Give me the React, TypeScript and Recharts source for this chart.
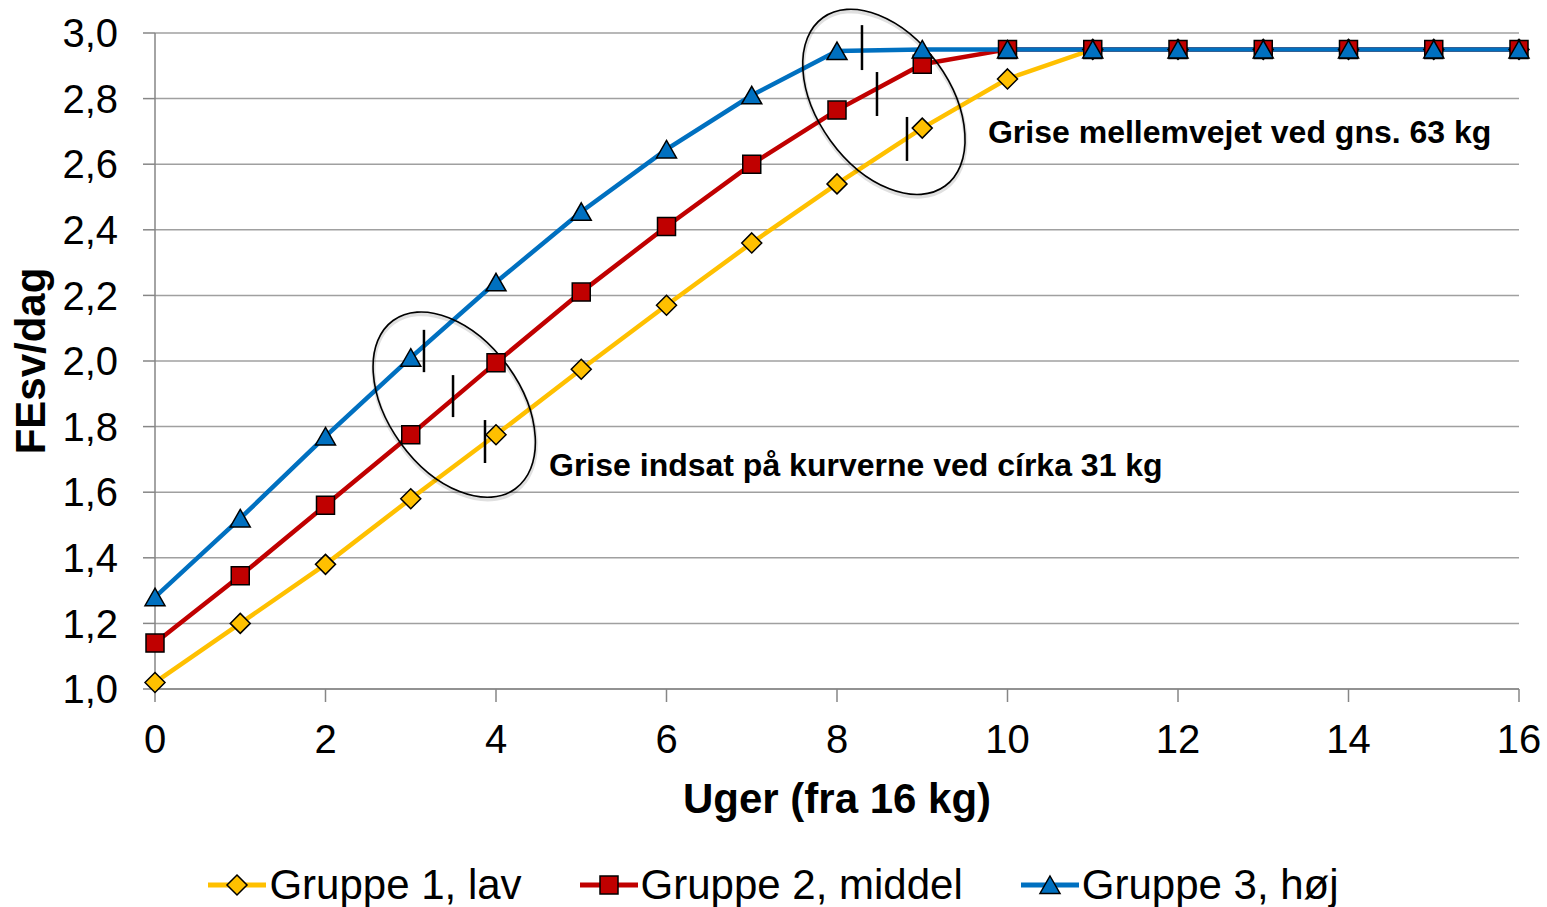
import React from "react";
import {
  LineChart,
  Line,
  XAxis,
  YAxis,
  CartesianGrid,
  Legend,
  ReferenceDot,
  ReferenceLine,
} from "recharts";

const weeks = [0, 1, 2, 3, 4, 5, 6, 7, 8, 9, 10, 11, 12, 13, 14, 15, 16];
const gruppe1 = [1.02, 1.2, 1.38, 1.58, 1.775, 1.975, 2.17, 2.36, 2.54, 2.71, 2.86, 2.95, 2.95, 2.95, 2.95, 2.95, 2.95];
const gruppe2 = [1.14, 1.345, 1.56, 1.775, 1.995, 2.21, 2.41, 2.6, 2.765, 2.905, 2.95, 2.95, 2.95, 2.95, 2.95, 2.95, 2.95];
const gruppe3 = [1.28, 1.52, 1.77, 2.01, 2.24, 2.455, 2.645, 2.81, 2.945, 2.95, 2.95, 2.95, 2.95, 2.95, 2.95, 2.95, 2.95];

const xTicks = [0, 2, 4, 6, 8, 10, 12, 14, 16];
const yTicks = [1.0, 1.2, 1.4, 1.6, 1.8, 2.0, 2.2, 2.4, 2.6, 2.8, 3.0];

const seriesNames = ["Gruppe 1, lav", "Gruppe 2, middel", "Gruppe 3, høj"];
const seriesColors = ["#FFC000", "#C00000", "#0070C0"];

// annotation marks (data coordinates)
const ellipseCenters = [
  { x: 3.51, y: 1.867 },
  { x: 8.55, y: 2.79 },
];
const markSegments = [
  { x: 3.155, y1: 1.966, y2: 2.095 },
  { x: 3.496, y1: 1.829, y2: 1.957 },
  { x: 3.871, y1: 1.689, y2: 1.82 },
  { x: 8.293, y1: 2.887, y2: 3.024 },
  { x: 8.469, y1: 2.747, y2: 2.881 },
  { x: 8.821, y1: 2.61, y2: 2.744 },
];
const notes = [
  { x: 4.622, y: 1.683, text: "Grise indsat på kurverne ved círka 31 kg" },
  { x: 9.771, y: 2.698, text: "Grise mellemvejet ved gns. 63 kg" },
];

const data = weeks.map((w, i) => ({
  week: w,
  g1: gruppe1[i],
  g2: gruppe2[i],
  g3: gruppe3[i],
}));

const FONT = '"Liberation Sans", Arial, sans-serif';

function markerPath(kind: number, cx: number, cy: number) {
  if (kind === 0) return `M${cx},${cy - 10}L${cx + 10},${cy}L${cx},${cy + 10}L${cx - 10},${cy}Z`;
  if (kind === 1) return `M${cx - 9},${cy - 9}H${cx + 9}V${cy + 9}H${cx - 9}Z`;
  return `M${cx},${cy - 9}L${cx + 10},${cy + 8.5}L${cx - 10},${cy + 8.5}Z`;
}

const makeDot = (kind: number) => (props: any) => {
  const { cx, cy, index } = props;
  return (
    <path
      key={`m${kind}-${index}`}
      d={markerPath(kind, cx, cy)}
      fill={seriesColors[kind]}
      stroke="#000"
      strokeWidth={1.5}
    />
  );
};

function YLabel(props: any) {
  const { viewBox } = props;
  const x = viewBox.x + 30;
  const y = viewBox.y + viewBox.height / 2;
  return (
    <text
      x={x}
      y={y}
      transform={`rotate(-90 ${x} ${y})`}
      textAnchor="middle"
      dominantBaseline="central"
      fontFamily={FONT}
      fontWeight="bold"
      fontSize={42}
      fill="#000"
    >
      FEsv/dag
    </text>
  );
}

function XLabel(props: any) {
  const { viewBox } = props;
  return (
    <text
      x={viewBox.x + viewBox.width / 2}
      y={viewBox.y + 109}
      textAnchor="middle"
      dominantBaseline="central"
      fontFamily={FONT}
      fontWeight="bold"
      fontSize={42}
      fill="#000"
    >
      Uger (fra 16 kg)
    </text>
  );
}

function LegendContent() {
  return (
    <div
      style={{
        display: "flex",
        justifyContent: "center",
        alignItems: "center",
        gap: 58,
        height: 50,
        boxSizing: "border-box",
        paddingTop: 6,
        fontFamily: FONT,
        fontSize: 42,
        color: "#000",
      }}
    >
      {seriesNames.map((name, i) => (
        <div key={name} style={{ display: "flex", alignItems: "center" }}>
          <svg width={58} height={30}>
            <line x1={0} y1={15} x2={58} y2={15} stroke={seriesColors[i]} strokeWidth={5} />
            <path d={markerPath(i, 29, 15)} fill={seriesColors[i]} stroke="#000" strokeWidth={1.5} />
          </svg>
          <span style={{ marginLeft: 3, lineHeight: "44px" }}>{name}</span>
        </div>
      ))}
    </div>
  );
}

export default function App() {
  return (
    <div style={{ position: "absolute", left: 0, top: 0, background: "#fff" }}>
      <LineChart
        width={1547}
        height={907}
        data={data}
        margin={{ top: 33, right: 28, left: 0, bottom: 0 }}
      >
        <CartesianGrid vertical={false} stroke="#A0A0A0" strokeWidth={1.5} />
        <XAxis
          dataKey="week"
          type="number"
          domain={[0, 16]}
          ticks={xTicks}
          interval={0}
          height={168}
          tickSize={13}
          tickMargin={23}
          axisLine={{ stroke: "#868686", strokeWidth: 1.5 }}
          tickLine={{ stroke: "#868686", strokeWidth: 1.5 }}
          tick={{ fill: "#000", fontSize: 40, fontFamily: FONT }}
          label={<XLabel />}
        />
        <YAxis
          domain={[1, 3]}
          ticks={yTicks}
          interval={0}
          width={155}
          tickSize={12}
          tickMargin={25}
          tickFormatter={(v: number) => v.toFixed(1).replace(".", ",")}
          axisLine={{ stroke: "#868686", strokeWidth: 1.5 }}
          tickLine={{ stroke: "#868686", strokeWidth: 1.5 }}
          tick={{ fill: "#000", fontSize: 40, fontFamily: FONT }}
          label={<YLabel />}
        />
        <Legend
          verticalAlign="bottom"
          content={<LegendContent />}
          wrapperStyle={{ left: 0, width: 1547 }}
        />
        <Line
          type="linear"
          dataKey="g1"
          name={seriesNames[0]}
          stroke={seriesColors[0]}
          strokeWidth={4.5}
          dot={makeDot(0)}
          activeDot={false}
          isAnimationActive={false}
        />
        <Line
          type="linear"
          dataKey="g2"
          name={seriesNames[1]}
          stroke={seriesColors[1]}
          strokeWidth={4.5}
          dot={makeDot(1)}
          activeDot={false}
          isAnimationActive={false}
        />
        <Line
          type="linear"
          dataKey="g3"
          name={seriesNames[2]}
          stroke={seriesColors[2]}
          strokeWidth={4.5}
          dot={makeDot(2)}
          activeDot={false}
          isAnimationActive={false}
        />
        {ellipseCenters.map((c, i) => (
          <ReferenceDot
            key={`e${i}`}
            x={c.x}
            y={c.y}
            ifOverflow="visible"
            shape={(p: any) => (
              <g transform={`rotate(54 ${p.cx} ${p.cy})`}>
                <ellipse
                  cx={p.cx + 2}
                  cy={p.cy + 1}
                  rx={104}
                  ry={66}
                  fill="none"
                  stroke="#000"
                  strokeOpacity={0.12}
                  strokeWidth={4}
                />
                <ellipse
                  cx={p.cx}
                  cy={p.cy}
                  rx={104}
                  ry={66}
                  fill="none"
                  stroke="#000"
                  strokeWidth={1.6}
                />
              </g>
            )}
          />
        ))}
        {markSegments.map((s, i) => (
          <ReferenceLine
            key={`s${i}`}
            segment={[
              { x: s.x, y: s.y1 },
              { x: s.x, y: s.y2 },
            ]}
            stroke="#000"
            strokeWidth={2.5}
            ifOverflow="visible"
          />
        ))}
        {notes.map((n, i) => (
          <ReferenceDot
            key={`n${i}`}
            x={n.x}
            y={n.y}
            ifOverflow="visible"
            shape={(p: any) => (
              <text
                x={p.cx}
                y={p.cy}
                textAnchor="start"
                dominantBaseline="central"
                fontFamily={FONT}
                fontWeight="bold"
                fontSize={32}
                fill="#000"
              >
                {n.text}
              </text>
            )}
          />
        ))}
      </LineChart>
    </div>
  );
}
